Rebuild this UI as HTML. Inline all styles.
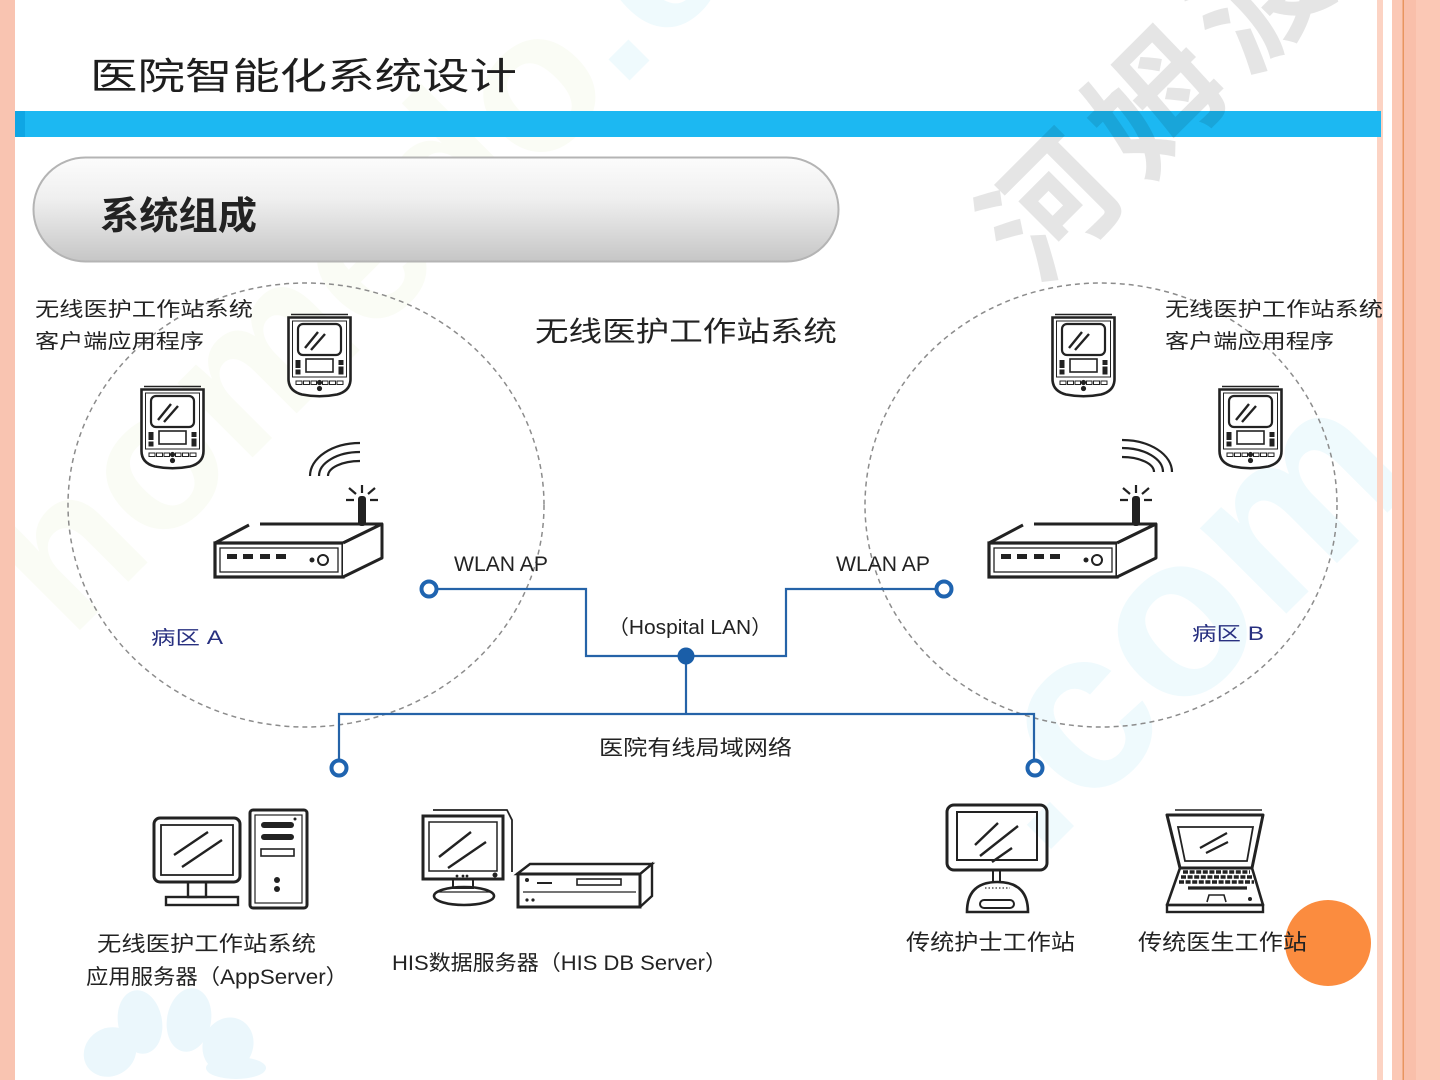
<!DOCTYPE html>
<html><head><meta charset="utf-8">
<style>
html,body{margin:0;padding:0;background:#fff;width:1440px;height:1080px;overflow:hidden;}
svg{display:block;overflow:hidden;}
text{font-family:"Liberation Sans","Noto Sans CJK SC",sans-serif;}
</style></head><body>
<svg width="1440" height="1080" viewBox="0 0 1440 1080" xmlns="http://www.w3.org/2000/svg">
<defs>
 <linearGradient id="pill" x1="0" y1="0" x2="0" y2="1">
  <stop offset="0" stop-color="#fcfcfc"/>
  <stop offset="0.4" stop-color="#efefef"/>
  <stop offset="1" stop-color="#c6c6c6"/>
 </linearGradient>
 <g id="pda">
  <path d="M4,1.5 H61" stroke="#222" stroke-width="1.6" fill="none"/>
  <path d="M1.5,4.5 H63.5 V66 Q63.5,78 50,81.5 Q32.5,85 15,81.5 Q1.5,78 1.5,66 Z" fill="#fff" stroke="#222" stroke-width="2.6"/>
  <path d="M5.5,8 H59.5 V64 H5.5 Z" fill="none" stroke="#222" stroke-width="1"/>
  <rect x="11" y="11" width="43" height="31" rx="5" fill="none" stroke="#222" stroke-width="2.2"/>
  <path d="M18,35 L31,19 M24,37 L38,21" stroke="#222" stroke-width="2.4" fill="none"/>
  <rect x="19" y="46" width="27" height="13" fill="none" stroke="#222" stroke-width="1.6"/>
  <rect x="8.5" y="47" width="5" height="8" fill="#222"/>
  <rect x="8.5" y="56.5" width="5" height="5" fill="#222"/>
  <rect x="51.5" y="47" width="5" height="5" fill="#222"/>
  <rect x="51.5" y="53.5" width="5" height="8" fill="#222"/>
  <g fill="none" stroke="#222" stroke-width="1">
   <rect x="9" y="68" width="6" height="3.5"/><rect x="16.5" y="68" width="6" height="3.5"/><rect x="24" y="68" width="5.5" height="3.5"/>
   <rect x="35.5" y="68" width="5.5" height="3.5"/><rect x="42.5" y="68" width="6" height="3.5"/><rect x="50" y="68" width="6" height="3.5"/>
  </g>
  <circle cx="32.5" cy="69.5" r="2.6" fill="#222"/>
  <circle cx="32.5" cy="75.5" r="2.6" fill="#222"/>
 </g>
 <g id="router">
  <rect x="145" y="11" width="8" height="30" rx="3" fill="#222"/>
  <path d="M149,0 V8 M136,3 L143,9 M162,3 L155,9 M133,15 H141 M157,15 H165" stroke="#222" stroke-width="2.2" fill="none"/>
  <path d="M2,58 L36,40 M47,39 H169 L130,58 M2,58 H130" stroke="#222" stroke-width="3" fill="none"/>
  <rect x="2" y="58" width="128" height="34" fill="#fff" stroke="#222" stroke-width="3.2"/>
  <rect x="7" y="63" width="118" height="24" fill="none" stroke="#222" stroke-width="1.3"/>
  <path d="M130,58 L169,39 V73 L130,92" fill="#fff" stroke="#222" stroke-width="3" stroke-linejoin="round"/>
  <g fill="#222">
   <rect x="14" y="69" width="10" height="5"/><rect x="30" y="69" width="10" height="5"/>
   <rect x="47" y="69" width="10" height="5"/><rect x="63" y="69" width="10" height="5"/>
  </g>
  <circle cx="99" cy="75" r="2.5" fill="#222"/>
  <circle cx="110" cy="75" r="5" fill="none" stroke="#222" stroke-width="2"/>
 </g>
</defs>

<!-- faint homedo watermarks -->
<g font-family="Liberation Sans, sans-serif" font-weight="bold">
 <text transform="translate(70,640) rotate(-45)" font-size="200"><tspan fill="#9ccc3c" fill-opacity="0.05">homedo</tspan><tspan fill="#30bdea" fill-opacity="0.08">.co</tspan></text>
 <text transform="translate(1040,860) rotate(-45)" font-size="230" fill="#30bdea" fill-opacity="0.08">.com</text>
</g>
<!-- flower logo -->
<g fill="#ebf7fc">
 <ellipse cx="110" cy="1052" rx="27" ry="24" transform="rotate(-30 110 1052)"/>
 <ellipse cx="140" cy="1022" rx="22" ry="32" transform="rotate(-10 140 1022)"/>
 <ellipse cx="189" cy="1020" rx="22" ry="32" transform="rotate(10 189 1020)"/>
 <ellipse cx="228" cy="1045" rx="25" ry="28" transform="rotate(25 228 1045)"/>
 <ellipse cx="236" cy="1068" rx="30" ry="11"/>
</g>

<!-- borders -->
<rect x="0" y="0" width="15" height="1080" fill="#f9c4b1"/>
<rect x="1377" y="0" width="6" height="1080" fill="#fcd3c3"/>
<rect x="1392" y="0" width="48" height="1080" fill="#fbc8b5"/>
<rect x="1404" y="0" width="12" height="1080" fill="#f9bfaa"/>
<rect x="1402.5" y="0" width="1.5" height="1080" fill="#e8955f"/>

<!-- title -->
<text x="90" y="89" font-size="37" fill="#1e1e1e" textLength="427" lengthAdjust="spacingAndGlyphs">医院智能化系统设计</text>
<rect x="15" y="111" width="1366" height="26" fill="#1cb8f2"/>
<rect x="15" y="111" width="10" height="26" fill="#0fa6e4"/>

<!-- gray watermark -->
<text transform="translate(1160,95) rotate(-45)" x="0" y="49" font-size="130" font-weight="bold" text-anchor="middle" letter-spacing="18" fill="#000" fill-opacity="0.1">河姆渡</text>

<!-- pill -->
<rect x="33.5" y="157.5" width="805" height="104" rx="52" fill="url(#pill)" stroke="#b4b4b4" stroke-width="2"/>
<text x="100" y="229" font-size="38" font-weight="bold" fill="#222" textLength="157" lengthAdjust="spacingAndGlyphs">系统组成</text>

<!-- dashed zones -->
<ellipse cx="306" cy="505" rx="238" ry="222" fill="none" stroke="#8c8c8c" stroke-width="1.5" stroke-dasharray="5 4"/>
<ellipse cx="1101" cy="505" rx="236" ry="222" fill="none" stroke="#8c8c8c" stroke-width="1.5" stroke-dasharray="5 4"/>

<!-- devices zone A -->
<use href="#pda" x="287" y="313"/>
<use href="#pda" x="140" y="385"/>
<use href="#router" x="213" y="485"/>
<g fill="none" stroke="#222" stroke-width="2.2">
 <path d="M310,476 A50,33 0 0 1 360,443"/>
 <path d="M319,476 A41,24 0 0 1 360,452"/>
 <path d="M328,476 A32,15 0 0 1 360,461"/>
</g>
<!-- devices zone B -->
<use href="#pda" x="1051" y="313"/>
<use href="#pda" x="1218" y="385"/>
<use href="#router" x="987" y="485"/>
<g fill="none" stroke="#222" stroke-width="2.2">
 <path d="M1172,472 A50,32 0 0 0 1122,440"/>
 <path d="M1163,472 A41,24 0 0 0 1122,448"/>
 <path d="M1154,472 A32,15 0 0 0 1122,457"/>
</g>

<!-- network -->
<g fill="none" stroke="#2563a8" stroke-width="2.2">
 <polyline points="437,589 586,589 586,656 786,656 786,589 936,589"/>
 <line x1="686" y1="656" x2="686" y2="714"/>
 <polyline points="339,760 339,714 1034,714 1034,760"/>
</g>
<g fill="#fff" stroke="#1f64b0" stroke-width="4">
 <circle cx="429" cy="589" r="7.5"/>
 <circle cx="944" cy="589" r="7.5"/>
 <circle cx="339" cy="768" r="7.5"/>
 <circle cx="1035" cy="768" r="7.5"/>
</g>
<circle cx="686" cy="656" r="8.5" fill="#1a5ea8"/>

<!-- AppServer icon -->
<g fill="none" stroke="#222">
 <rect x="154" y="818" width="86" height="64" rx="6" stroke-width="3"/>
 <rect x="161" y="825" width="72" height="50" stroke-width="1.8"/>
 <path d="M174,855 L208,832 M182,867 L222,840" stroke-width="2.4"/>
 <rect x="188" y="882" width="18" height="15" stroke-width="2.4"/>
 <rect x="166" y="897" width="72" height="8" stroke-width="2.4"/>
 <rect x="250" y="810" width="57" height="98" rx="3" stroke-width="3"/>
 <rect x="255" y="815" width="47" height="88" stroke-width="1.2"/>
 <rect x="261" y="849" width="33" height="7" stroke-width="1.6"/>
</g>
<g fill="#222">
 <rect x="261" y="822" width="33" height="6" rx="3"/>
 <rect x="261" y="834" width="33" height="6" rx="3"/>
 <circle cx="277" cy="880" r="3"/>
 <circle cx="277" cy="889" r="3"/>
 <circle cx="295" cy="819" r="1.5"/>
</g>

<!-- HIS icon -->
<g fill="none" stroke="#222">
 <path d="M433,810 H507 L512,820 V872" stroke-width="1.8"/>
 <rect x="423" y="816" width="80" height="63" stroke-width="3"/>
 <rect x="429" y="822" width="68" height="49" stroke-width="1.5"/>
 <path d="M439,857 L471,832 M448,868 L486,842" stroke-width="2.4"/>
 <rect x="453" y="879" width="20" height="9" stroke-width="2"/>
 <ellipse cx="464" cy="896" rx="30" ry="9" stroke-width="2.6"/>
 <path d="M437,892 H491" stroke-width="1.2"/>
 <path d="M517,874 L530,864 H652 L640,874 Z" stroke-width="2.4" fill="#fff"/>
 <rect x="518" y="874" width="122" height="33" stroke-width="3"/>
 <path d="M640,874 L652,864 V896 L640,907" stroke-width="2.4"/>
 <path d="M523,892 H636" stroke-width="1.2"/>
 <path d="M537,883 H552" stroke-width="2"/>
 <rect x="577" y="879" width="44" height="6" stroke-width="1.6"/>
</g>
<g fill="#222">
 <circle cx="457" cy="876" r="1.4"/><circle cx="463" cy="876" r="1.4"/><circle cx="467" cy="876" r="1.4"/>
 <circle cx="495" cy="875" r="2.5"/>
 <circle cx="527" cy="880" r="2"/><circle cx="527" cy="900" r="1.6"/><circle cx="533" cy="900" r="1.6"/>
</g>

<!-- Nurse station icon -->
<g fill="none" stroke="#222">
 <rect x="947" y="805" width="100" height="65" rx="7" stroke-width="3"/>
 <rect x="957" y="812" width="80" height="48" stroke-width="2"/>
 <path d="M975,845 L998,823 M980,856 L1018,826 M992,862 L1012,848" stroke-width="2.4"/>
 <path d="M993,870 V881 M1000,870 V881" stroke-width="2"/>
 <path d="M967,912 Q967,882 997.5,882 Q1028,882 1028,912 Z" stroke-width="2.6" fill="#fff"/>
 <rect x="980" y="900" width="34" height="8" rx="4" stroke-width="2"/>
</g>
<path d="M985,888 H1010" stroke="#555" stroke-width="1.5" stroke-dasharray="1.5 2"/>

<!-- Laptop icon -->
<g fill="none" stroke="#222">
 <path d="M1175,810 H1262" stroke-width="1.5"/>
 <path d="M1167,815 H1263 L1252,868 H1180 Z" stroke-width="3" stroke-linejoin="round"/>
 <path d="M1178,827 H1253 L1247,861 H1185 Z" stroke-width="1.8"/>
 <path d="M1200,848 L1227,833 M1206,853 L1228,842" stroke-width="2.2"/>
 <path d="M1180,868 L1167,905 H1263 L1252,868" stroke-width="2.6" stroke-linejoin="round"/>
 <rect x="1167" y="905" width="96" height="7" stroke-width="2.4"/>
 <path d="M1207,902 L1209,895 H1224 L1226,902" stroke-width="1.6"/>
</g>
<g stroke="#222" stroke-width="3.4" stroke-dasharray="5 1.6" fill="none">
 <path d="M1183,872 H1250"/>
 <path d="M1181,877 H1252"/>
 <path d="M1179,882 H1254"/>
</g>
<path d="M1188,888 H1247" stroke="#222" stroke-width="3.2"/>
<circle cx="1250" cy="899" r="2" fill="#222"/>

<!-- orange circle -->
<circle cx="1328" cy="943" r="43" fill="#fb8c3f"/>

<!-- labels -->
<g fill="#222">
 <text x="35" y="316" font-size="20" textLength="218" lengthAdjust="spacingAndGlyphs">无线医护工作站系统</text>
 <text x="35" y="348" font-size="20" textLength="169" lengthAdjust="spacingAndGlyphs">客户端应用程序</text>
 <text x="1165" y="316" font-size="20" textLength="218" lengthAdjust="spacingAndGlyphs">无线医护工作站系统</text>
 <text x="1165" y="348" font-size="20" textLength="169" lengthAdjust="spacingAndGlyphs">客户端应用程序</text>
 <text x="535" y="341" font-size="28" textLength="302" lengthAdjust="spacingAndGlyphs">无线医护工作站系统</text>
 <text x="454" y="571" font-size="21" textLength="94" lengthAdjust="spacingAndGlyphs">WLAN AP</text>
 <text x="836" y="571" font-size="21" textLength="94" lengthAdjust="spacingAndGlyphs">WLAN AP</text>
 <text x="608" y="634" font-size="20" textLength="164" lengthAdjust="spacingAndGlyphs">（Hospital LAN）</text>
 <text x="599" y="755" font-size="21" textLength="193" lengthAdjust="spacingAndGlyphs">医院有线局域网络</text>
 <text x="97" y="951" font-size="21" textLength="219" lengthAdjust="spacingAndGlyphs">无线医护工作站系统</text>
 <text x="86" y="984" font-size="21" textLength="262" lengthAdjust="spacingAndGlyphs">应用服务器（AppServer）</text>
 <text x="392" y="970" font-size="21" textLength="335" lengthAdjust="spacingAndGlyphs">HIS数据服务器（HIS DB Server）</text>
 <text x="906" y="950" font-size="22" textLength="169" lengthAdjust="spacingAndGlyphs">传统护士工作站</text>
 <text x="1138" y="950" font-size="22" textLength="169" lengthAdjust="spacingAndGlyphs">传统医生工作站</text>
</g>
<g fill="#283080">
 <text x="151" y="644" font-size="19" textLength="72" lengthAdjust="spacingAndGlyphs">病区 A</text>
 <text x="1192" y="640" font-size="19" textLength="72" lengthAdjust="spacingAndGlyphs">病区 B</text>
</g>
</svg>
</body></html>
